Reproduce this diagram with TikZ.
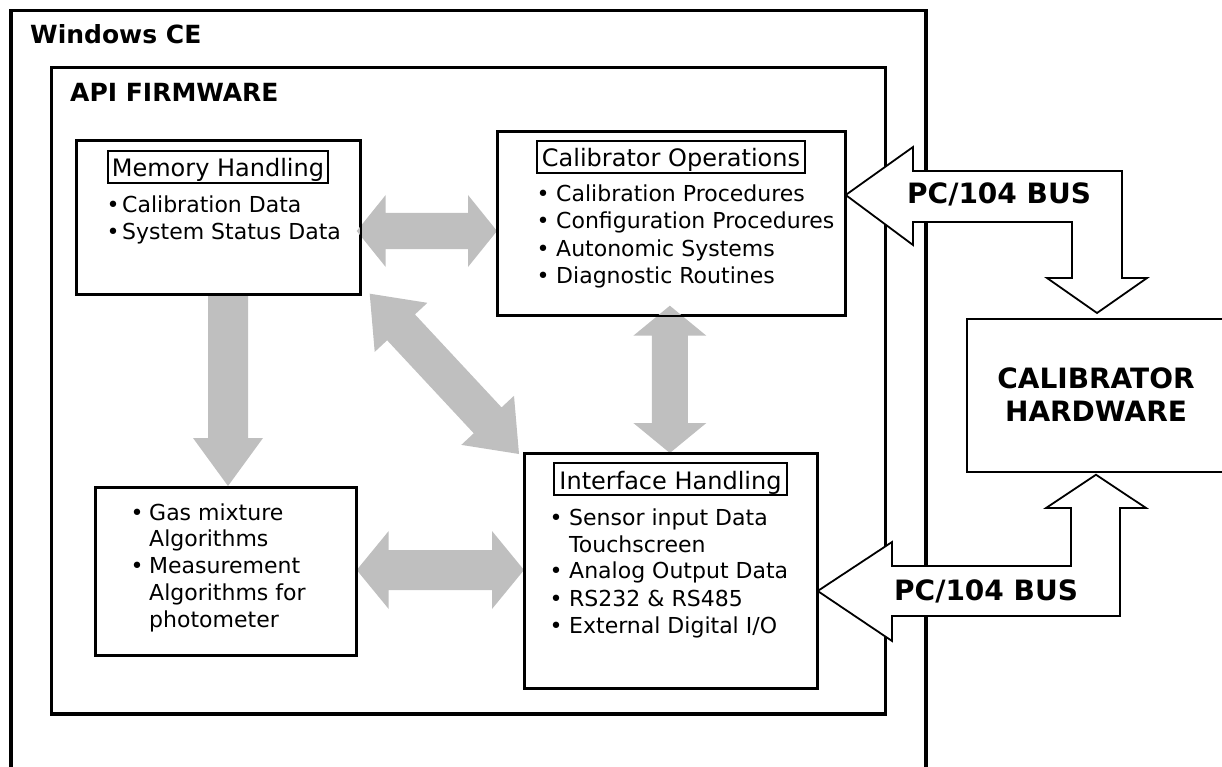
\documentclass[tikz,border=0pt]{standalone}
\usepackage{fontspec}
\setmainfont{DejaVu Sans}
\usetikzlibrary{calc}
\definecolor{arrowgray}{RGB}{191,191,191}
\newcommand{\fatdarrow}[5]{% A, B, head length, head half width, shaft half width
  \fill[arrowgray] (#1) -- ($(#1)!#3!(#2)!#4!90:(#2)$) -- ($(#1)!#3!(#2)!#5!90:(#2)$)
    -- ($(#2)!#3!(#1)!#5!-90:(#1)$) -- ($(#2)!#3!(#1)!#4!-90:(#1)$) -- (#2)
    -- ($(#2)!#3!(#1)!#4!90:(#1)$) -- ($(#2)!#3!(#1)!#5!90:(#1)$)
    -- ($(#1)!#3!(#2)!#5!-90:(#2)$) -- ($(#1)!#3!(#2)!#4!-90:(#2)$) -- cycle;}
\newcommand{\fatsarrow}[5]{% A (tail), B (tip), head length, head half width, shaft half width
  \fill[arrowgray] ($(#1)!#5!90:(#2)$) -- ($(#2)!#3!(#1)!#5!-90:(#1)$) -- ($(#2)!#3!(#1)!#4!-90:(#1)$) -- (#2)
    -- ($(#2)!#3!(#1)!#4!90:(#1)$) -- ($(#2)!#3!(#1)!#5!90:(#1)$) -- ($(#1)!#5!-90:(#2)$) -- cycle;}
\newcommand{\bul}[5]{%
  \node[txt, anchor=base] (#1d) at (#2,#4) {•};
  \node[txt, anchor=base west] (#1) at (#3,#4) {#5};}
\newcommand{\lin}[4]{\node[txt, anchor=base west] (#1) at (#2,#3) {#4};}
\begin{document}
\begin{tikzpicture}[x=1pt,y=-1pt,
  thickbox/.style={draw=black, line width=3.5pt, inner sep=0pt, anchor=north west},
  box/.style={draw=black, line width=1.7pt, inner sep=0pt, anchor=north west},
  titlebox/.style={draw=black, line width=2pt, inner xsep=0pt, inner ysep=0pt,
     text height=26pt, text depth=6pt, font=\fontsize{24}{28}\selectfont},
  txt/.style={inner sep=0pt, font=\fontsize{22}{27}\selectfont},
  bigtxt/.style={inner sep=0pt, font=\fontsize{25}{30}\selectfont\bfseries},
  bustxt/.style={inner sep=0pt, font=\fontsize{28}{33}\selectfont\bfseries},
  busarrow/.style={draw=black, fill=white, line width=1.8pt, line join=miter}]
\useasboundingbox (0,0) rectangle (1222,767);
\clip (0,0) rectangle (1222,767);

% containers
\node[thickbox, minimum width=915pt, minimum height=800pt] (win) at (9,9) {};
\node[thickbox, minimum width=834pt, minimum height=646pt] (api) at (49.5,66) {};
\node[bigtxt, anchor=base west] (winlbl) at (30,44) {Windows CE};
\node[bigtxt, anchor=base west] (apilbl) at (70,102) {API FIRMWARE};

% boxes
\node[box, minimum width=283pt, minimum height=153pt] (mem) at (76,140) {};
\node[box, minimum width=347pt, minimum height=183pt] (cal) at (497,131) {};
\node[box, minimum width=292pt, minimum height=234pt] (intf) at (524,453) {};
\node[box, minimum width=260pt, minimum height=167pt] (gas) at (95,487) {};
\node[box, minimum width=274pt, minimum height=153pt] (hw) at (966,318) {};

% bus arrows
\coordinate (bt1) at (cal.east |- 0,195);
\coordinate (bt2) at (1097,0 |- hw.north);
\draw[busarrow] (bt1) -- (913,147) -- (913,171) -- (1122,171) -- (1122,278) -- (1147,278)
  -- ([yshift=5pt]bt2) -- (1047,278) -- (1072,278) -- (1072,222) -- (913,222) -- (913,245) -- cycle;
\coordinate (bb1) at (intf.east |- 0,591);
\coordinate (bb2) at (1096,0 |- hw.south);
\draw[busarrow] (bb1) -- (892,542) -- (892,566) -- (1071,566) -- (1071,508) -- (1046,508)
  -- ([yshift=-2pt]bb2) -- (1146,508) -- (1120,508) -- (1120,616) -- (892,616) -- (892,641) -- cycle;
\node[bustxt, anchor=base west] (bus1) at (907,204) {PC/104 BUS};
\node[bustxt, anchor=base west] (bus2) at (894,600) {PC/104 BUS};
\node[bustxt, align=center, anchor=base] (hwl1) at (1096,388) {CALIBRATOR};
\node[bustxt, align=center, anchor=base] (hwl2) at (1096,421) {HARDWARE};

% gray arrows
\coordinate (g1a) at ([xshift=-4pt]mem.east |- 0,231);
\coordinate (g1b) at (cal.west |- 0,231);
\fatdarrow{g1a}{g1b}{29pt}{36pt}{18pt}
\coordinate (g2a) at ([xshift=-1.5pt,yshift=10pt]cal.south);
\coordinate (g2b) at ([xshift=-1pt]intf.north);
\fatdarrow{g2a}{g2b}{30pt}{36.5pt}{18pt}
\coordinate (g3a) at (228,0 |- mem.south);
\coordinate (g3b) at ([yshift=1pt]228,0 |- gas.north);
\fatsarrow{g3a}{g3b}{48pt}{35pt}{20pt}
\coordinate (g4a) at ([xshift=9pt,yshift=1pt]mem.south east);
\coordinate (g4b) at ([xshift=-5pt,yshift=-1pt]intf.north west);
\fatdarrow{g4a}{g4b}{46pt}{36pt}{19pt}
\coordinate (g5a) at (gas.east |- 0,570);
\coordinate (g5b) at (intf.west |- 0,570);
\fatdarrow{g5a}{g5b}{32pt}{39pt}{20pt}

% redraw box frames on top
\foreach \b in {mem,cal,intf,gas}{\draw[line width=1.7pt] (\b.north west) rectangle (\b.south east);}

% titles
\node[titlebox, minimum width=220pt] (memt) at (218,167) {Memory Handling};
\node[titlebox, minimum width=268pt] (calt) at (671,157) {Calibrator Operations};
\node[titlebox, minimum width=233pt] (intft) at (670.5,479) {Interface Handling};

% memory bullets
\bul{m1}{113}{122}{212.5}{Calibration Data}
\bul{m2}{113}{122}{239.5}{System Status Data}
% calibrator bullets
\bul{c1}{543}{556}{202}{Calibration Procedures}
\bul{c2}{543}{556}{229}{Configuration Procedures}
\bul{c3}{543}{556}{256}{Autonomic Systems}
\bul{c4}{543}{556}{283}{Diagnostic Routines}
% interface bullets
\bul{i1}{556}{569}{525}{Sensor input Data}
\lin{i1b}{569}{552}{Touchscreen}
\bul{i2}{556}{569}{578.5}{Analog Output Data}
\bul{i3}{556}{569}{606}{RS232 \& RS485}
\bul{i4}{556}{569}{633}{External Digital I/O}
% gas bullets
\bul{s1}{137}{149}{520}{Gas mixture}
\lin{s1b}{149}{546.5}{Algorithms}
\bul{s2}{137}{149}{573.5}{Measurement}
\lin{s2b}{149}{600.5}{Algorithms for}
\lin{s2c}{149}{627}{photometer}
\end{tikzpicture}
\end{document}
